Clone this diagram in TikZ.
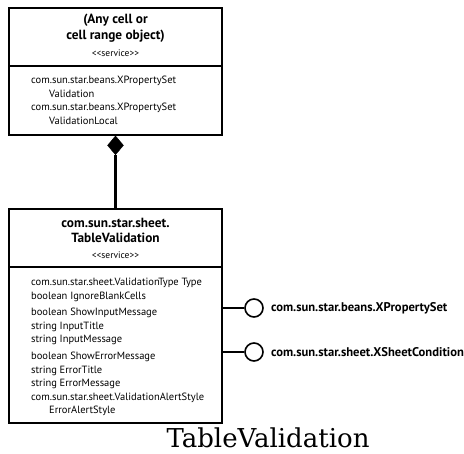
\documentclass[tikz,border=0pt]{standalone}
\usepackage{fontspec}
\newfontfamily\umlfont{PT Sans}
\newfontfamily\captionfont{DejaVu Serif}
\usetikzlibrary{positioning,shapes.geometric}

\begin{document}
\begin{tikzpicture}[
  x=1pt, y=-1pt,
  font=\umlfont\fontsize{10.5}{13.6}\selectfont,
  compartment/.style={rectangle, draw, line width=1.3pt, minimum width=213pt, inner sep=0pt},
  headtext/.style={align=center, inner sep=0pt, font=\umlfont\fontsize{13.3}{15.5}\selectfont\bfseries},
  stereo/.style={inner sep=0pt, font=\umlfont\fontsize{9.5}{11}\selectfont},
  attr/.style={align=left, anchor=west, inner sep=0pt},
  iface/.style={circle, draw, line width=1.6pt, minimum size=18pt, inner sep=0pt},
  ifacelabel/.style={anchor=west, inner sep=0pt, font=\umlfont\fontsize{12.6}{14}\selectfont\bfseries},
  link/.style={line width=2.2pt}
]
  \useasboundingbox (0,0) rectangle (464,454);

  \node[compartment, minimum height=58pt] (cellhead) at (115.5,37) {};
  \node[compartment, minimum height=69pt] (cellattr) at (115.5,100.5) {};
  \node[headtext] (celltitle) at (115.5,28) {(Any cell or\\cell range object)};
  \node[stereo] (cellstereo) at (115.5,53) {<<service>>};
  \node[attr] (cellprops) at (31,100.5) {com.sun.star.beans.XPropertySet\\
    \hspace*{18pt}Validation\\
    com.sun.star.beans.XPropertySet\\
    \hspace*{18pt}ValidationLocal};

  \node[compartment, minimum height=58pt] (tvhead) at (115.5,238) {};
  \node[compartment, minimum height=156pt] (tvattr) at (115.5,345) {};
  \node[headtext] (tvtitle) at (115.5,230.5) {com.sun.star.sheet.\\TableValidation};
  \node[stereo] (tvstereo) at (115.5,255) {<<service>>};
  \node[attr] (tvprops) at (31,347) {com.sun.star.sheet.ValidationType Type\\
    boolean IgnoreBlankCells\\[3pt]
    boolean ShowInputMessage\\
    string InputTitle\\
    string InputMessage\\[3pt]
    boolean ShowErrorMessage\\
    string ErrorTitle\\
    string ErrorMessage\\
    com.sun.star.sheet.ValidationAlertStyle\\
    \hspace*{18pt}ErrorAlertStyle};

  \node[diamond, draw, fill=black, minimum width=16pt, minimum height=19pt, inner sep=0pt, anchor=north] (agg) at (cellattr.south) {};
  \draw[link] (agg.south) -- (tvhead.north);

  \foreach \i/\y/\name in {xps/308/com.sun.star.beans.XPropertySet, xsc/352/com.sun.star.sheet.XSheetCondition} {
    \node[iface] (\i) at (254,\y) {};
    \node[ifacelabel] (\i-label) at ([xshift=7pt]\i.east) {\name};
    \draw[link] (tvattr.east |- \i) -- (\i);
  }

  \node[font=\captionfont\fontsize{26}{30}\selectfont] (caption) at (268,438) {TableValidation};
\end{tikzpicture}
\end{document}
